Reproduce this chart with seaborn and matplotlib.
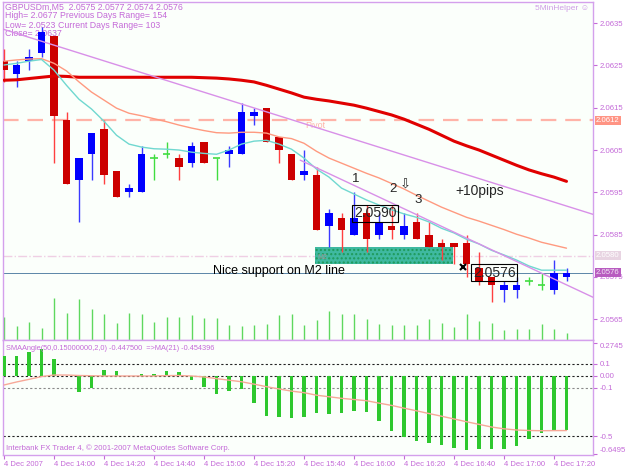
import matplotlib
matplotlib.use("Agg")
import matplotlib.pyplot as plt
from matplotlib.patches import Rectangle
import seaborn as sns
import numpy as np

# GBPUSDm M5 bars, bar 0 = 4 Dec 2007 13:40
opens = [2.0626, 2.0623, 2.0626, 2.0628, 2.0632, 2.0612, 2.0598, 2.0604, 2.0610, 2.0600,
         2.0595, 2.0595, 2.0603, 2.0604, 2.0603, 2.0602, 2.0607, 2.0603, 2.0604, 2.0604,
         2.0613, 2.0615, 2.0608, 2.0604, 2.0599, 2.0599, 2.0587, 2.0589, 2.0585, 2.0590,
         2.0585, 2.0587, 2.0585, 2.0588, 2.0585, 2.0583, 2.0583, 2.0583, 2.0577, 2.0575,
         2.0572, 2.0572, 2.0574, 2.0573, 2.0572, 2.0575]
highs = [2.0629, 2.0626, 2.0629, 2.0634, 2.0632, 2.0614, 2.0603, 2.0609, 2.0612, 2.0600,
         2.0597, 2.0606, 2.0604, 2.0607, 2.0604, 2.0607, 2.0607, 2.0603, 2.0606, 2.0616,
         2.0615, 2.0615, 2.0608, 2.0604, 2.0605, 2.0601, 2.0591, 2.0590, 2.0595, 2.0592,
         2.0590, 2.0592, 2.0590, 2.0590, 2.0588, 2.0584, 2.0583, 2.0585, 2.0581, 2.0575,
         2.0574, 2.0575, 2.0575, 2.0576, 2.0579, 2.0577]
lows = [2.0621, 2.0620, 2.0624, 2.0627, 2.0602, 2.0597, 2.0588, 2.0598, 2.0597, 2.0594,
        2.0594, 2.0595, 2.0598, 2.0603, 2.0598, 2.0601, 2.0602, 2.0598, 2.0601, 2.0604,
        2.0611, 2.0607, 2.0602, 2.0598, 2.0598, 2.0586, 2.0582, 2.0581, 2.0585, 2.0581,
        2.0584, 2.0584, 2.0584, 2.0584, 2.0582, 2.0579, 2.0578, 2.0575, 2.0573, 2.0569,
        2.0569, 2.0570, 2.0573, 2.0572, 2.0571, 2.0574]
closes = [2.0624, 2.0625, 2.0627, 2.0633, 2.0613, 2.0597, 2.0603, 2.0609, 2.0599, 2.0594,
          2.0596, 2.0604, 2.0603, 2.0604, 2.0601, 2.0606, 2.0602, 2.0603, 2.0605, 2.0614,
          2.0614, 2.0607, 2.0605, 2.0598, 2.0600, 2.0586, 2.0590, 2.0586, 2.0589, 2.0584,
          2.0588, 2.0586, 2.0587, 2.0584, 2.0582, 2.0582, 2.0582, 2.0578, 2.0574, 2.0573,
          2.0573, 2.0573, 2.0574, 2.0573, 2.0576, 2.0576]
volumes = [34, 21, 27, 18, 63, 41, 62, 46, 39, 26, 40, 39, 27, 34, 34, 37, 33, 33, 23, 21,
           22, 24, 38, 39, 22, 30, 43, 39, 39, 31, 24, 22, 22, 23, 31, 26, 20, 39, 29, 25,
           15, 16, 17, 24, 17, 11]

ma_fast = [2.06251, 2.06255, 2.06260, 2.06264, 2.06239, 2.06203, 2.06170, 2.06147, 2.06118, 2.06085,
           2.06064, 2.06057, 2.06053, 2.06052, 2.06050, 2.06045, 2.06042, 2.06040, 2.06050, 2.06064,
           2.06071, 2.06073, 2.06064, 2.06052, 2.06031, 2.06005, 2.05986, 2.05960, 2.05946, 2.05932,
           2.05920, 2.05909, 2.05899, 2.05891, 2.05880, 2.05865, 2.05854, 2.05839, 2.05828, 2.05813,
           2.05802, 2.05790, 2.05776, 2.05766, 2.05766, 2.05766]
ma_mid = [2.06260, 2.06263, 2.06265, 2.06266, 2.06255, 2.06237, 2.06211, 2.06187, 2.06168, 2.06149,
          2.06137, 2.06131, 2.06124, 2.06117, 2.06109, 2.06102, 2.06096, 2.06091, 2.06090, 2.06092,
          2.06092, 2.06090, 2.06081, 2.06077, 2.06066, 2.06047, 2.06031, 2.06019, 2.06007, 2.05995,
          2.05984, 2.05971, 2.05958, 2.05943, 2.05929, 2.05915, 2.05903, 2.05891, 2.05882, 2.05872,
          2.05862, 2.05851, 2.05842, 2.05832, 2.05825, 2.05818]
ma_slow = [2.06215, 2.06216, 2.06219, 2.06222, 2.06225, 2.06224, 2.06222, 2.06222, 2.06222, 2.06222,
           2.06222, 2.06222, 2.06222, 2.06222, 2.06222, 2.06222, 2.06221, 2.06220, 2.06218, 2.06215,
           2.06211, 2.06203, 2.06194, 2.06185, 2.06175, 2.06170, 2.06166, 2.06161, 2.06156, 2.06149,
           2.06141, 2.06133, 2.06123, 2.06111, 2.06099, 2.06085, 2.06071, 2.06060, 2.06050, 2.06038,
           2.06026, 2.06014, 2.06003, 2.05994, 2.05986, 2.05976]

sma_angle = [0.17, 0.17, 0.197, 0.225, 0.142, 0.0, -0.131, -0.097, 0.05, 0.044,
             0.0, 0.014, 0.014, 0.044, 0.031, -0.033, -0.094, -0.153, -0.125, -0.108,
             -0.228, -0.331, -0.339, -0.347, -0.345, -0.31, -0.317, -0.31, -0.289, -0.297,
             -0.375, -0.456, -0.506, -0.539, -0.556, -0.578, -0.597, -0.617, -0.606, -0.611,
             -0.611, -0.583, -0.528, -0.478, -0.456, -0.4475]
sma_angle_ma = [-0.075, -0.05, -0.028, -0.005, 0.008, 0.008, 0.004, 0.002, 0.0, 0.0,
                0.0, 0.0, 0.0, 0.003, 0.004, 0.0, -0.008, -0.022, -0.035, -0.048,
                -0.068, -0.089, -0.108, -0.126, -0.139, -0.16, -0.173, -0.186, -0.196, -0.206,
                -0.226, -0.245, -0.268, -0.29, -0.313, -0.335, -0.358, -0.381, -0.403, -0.425,
                -0.44, -0.45, -0.454, -0.456, -0.455, -0.4544]

time_ticks = [0, 4, 8, 12, 16, 20, 24, 28, 32, 36, 40, 44]
time_labels = ["4 Dec 2007", "4 Dec 14:00", "4 Dec 14:20", "4 Dec 14:40", "4 Dec 15:00",
               "4 Dec 15:20", "4 Dec 15:40", "4 Dec 16:00", "4 Dec 16:20", "4 Dec 16:40",
               "4 Dec 17:00", "4 Dec 17:20"]
price_ticks = [2.0565, 2.0575, 2.0585, 2.0595, 2.0605, 2.0615, 2.0625, 2.0635]
angle_ticks = [-0.6495, -0.5, -0.1, 0.0, 0.1, 0.2745]
angle_labels = ["-0.6495", "-0.5", "-0.1", "0.00", "0.1", "0.2745"]

pivot = 2.0612
level_m2 = 2.0580
bid = 2.0576
trend_hi_x, trend_hi_y = [-0.32, 47.12], [2.06338, 2.05898]
trend_lo_x, trend_lo_y = [23.7, 47.12], [2.06026, 2.05702]
zone_x, zone_y = [24.9, 35.9], [2.0578, 2.0582]

VIOLET = "#c46ad8"
FRAME = "#d4a0ec"

sns.set_style("white", {"axes.facecolor": "#fbfffb"})
plt.rcParams["font.family"] = ["Liberation Sans", "DejaVu Sans"]

fig = plt.figure(figsize=(6.25, 4.69), dpi=100)
fig.patch.set_facecolor("white")
ax = fig.add_axes([0.0048, 0.2751, 0.944, 0.7207])
axl = fig.add_axes([0.0048, 0.0299, 0.944, 0.2452])

bars = np.arange(len(opens))
o, h, l, c = map(np.array, (opens, highs, lows, closes))
up, down, doji = c > o, c < o, c == o

# volume at the foot of the price panel
vol_max = 510
ax.vlines(bars, 0, np.array(volumes) / vol_max, transform=ax.get_xaxis_transform(),
          colors="#5ed85e", lw=1, zorder=1)

# horizontal levels / objects
ax.axhline(pivot, color="#ffb3a8", lw=1.6, dashes=(7, 4), zorder=1)
ax.axhline(level_m2, color="#efcfe4", lw=1, ls="-.", zorder=1)
ax.axhline(bid, color="#5a86a8", lw=0.7, zorder=1)
ax.add_patch(Rectangle((zone_x[0], zone_y[0]), zone_x[1] - zone_x[0], zone_y[1] - zone_y[0],
                       facecolor="#3fb9a0", edgecolor="#1e9a5a", hatch="....", lw=0, zorder=2))
ax.text(zone_x[0] + 0.2, 2.05797, "M2", fontsize=5, color="#9a9a9a", va="center", zorder=2)

# header texts, under the candles
def htext(px, py, s, **kw):
    ax.text(px / 625, 1 - py / 469, s, va="center", transform=fig.transFigure, zorder=2.5, **kw)

htext(5, 7, "GBPUSDm,M5  2.0575 2.0577 2.0574 2.0576", fontsize=6.3, color=VIOLET)
htext(5, 16, "High= 2.0677", fontsize=6.3, color=VIOLET)
htext(60, 16, "Previous Days Range= 154", fontsize=6.3, color=VIOLET)
htext(5, 25, "Low= 2.0523", fontsize=6.3, color=VIOLET)
htext(58, 25, "Current Days Range= 103", fontsize=6.3, color=VIOLET)
htext(5, 34, "Close= 2.0637", fontsize=6.3, color=VIOLET)
htext(589, 8, "5MinHelper \u263a", fontsize=6, color="#cf9ee6", ha="right")

# candles
wick_cols = np.where(up, "#3a3aff", np.where(down, "#ff4040", "#40dd40"))
ax.vlines(bars, l, h, colors=wick_cols, lw=1, zorder=3)
ax.bar(bars[up], (c - o)[up], bottom=o[up], width=0.62, color="#0000ff", lw=0, zorder=4)
ax.bar(bars[down], (o - c)[down], bottom=c[down], width=0.62, color="#cc0000", lw=0, zorder=4)
ax.hlines(c[doji], bars[doji] - 0.31, bars[doji] + 0.31, colors="#40dd40", lw=1.2, zorder=4)

# moving averages and trendlines
sns.lineplot(x=bars, y=ma_slow, ax=ax, color="#e00000", lw=2.2, zorder=5)
sns.lineplot(x=bars, y=ma_mid, ax=ax, color="#ff9a80", lw=1, zorder=5)
sns.lineplot(x=bars, y=ma_fast, ax=ax, color="#70d8d0", lw=1, zorder=5)
ax.plot(trend_hi_x, trend_hi_y, color="#d890e8", lw=1, zorder=5)
ax.plot(trend_lo_x, trend_lo_y, color="#d890e8", lw=1, zorder=5)

# annotations
ax.text(24.1, 2.06109, "Pivot", fontsize=6.5, color="#ffb3a8", va="center", zorder=2)
ax.text(16.7, 2.05763, "Nice support on M2 line", fontsize=9, color="black", va="center", zorder=6)
ax.text(27.8, 2.05981, "1", fontsize=9.5, va="center", zorder=6)
ax.text(30.8, 2.05957, "2", fontsize=9.5, va="center", zorder=6)
ax.text(31.7, 2.05967, "\u21e9", fontsize=9.5, va="center", zorder=6, family=["DejaVu Sans"])
ax.text(32.8, 2.05933, "3", fontsize=9.5, va="center", zorder=6)
ax.text(36.1, 2.05954, "+10pips", fontsize=10, va="center", zorder=6)
ax.text(28.0, 2.0590, "2.0590", fontsize=10, va="center", zorder=6,
        bbox=dict(boxstyle="square,pad=0.12", fc="none", ec="black", lw=0.8))
ax.text(37.5, 2.0576, "2.0576", fontsize=10, va="center", zorder=6,
        bbox=dict(boxstyle="square,pad=0.12", fc="none", ec="black", lw=0.8))
ax.plot([36.7], [2.05774], marker="x", color="black", ms=5, mew=1.5, zorder=7)

ax.set_xlim(-0.08, 47.12)
ax.set_ylim(2.05601, 2.06400)
ax.set_xticks([])
ax.yaxis.tick_right()
ax.set_yticks(price_ticks)
ax.set_yticklabels([f"{p:.4f}" for p in price_ticks])
ax.tick_params(axis="y", right=True, length=3, width=0.8, color=VIOLET, labelsize=5.6,
               labelcolor=VIOLET, pad=2)

# price tags on the right scale
for val, fc, tc in [(pivot, "#ff9484", "white"), (level_m2, "#e8d4e2", "white"), (bid, "#b85cc0", "#f4e8f6")]:
    ax.annotate(f"{val:.4f}", xy=(1.0, val), xycoords=ax.get_yaxis_transform(),
                xytext=(2.2, 0), textcoords="offset points", va="center", ha="left",
                fontsize=5.6, color=tc, annotation_clip=False, zorder=8,
                bbox=dict(boxstyle="square,pad=0.12", fc=fc, ec="none"))

# lower indicator panel
axl.bar(bars, sma_angle, width=0.26, color="#2ec82e", lw=0, zorder=3)
sns.lineplot(x=bars, y=sma_angle_ma, ax=axl, color="#f7a898", lw=1, zorder=4)
for lvl, col in [(0.1, "#222222"), (0.0, "#222222"), (-0.1, "#8a8a8a"), (-0.5, "#222222")]:
    axl.axhline(lvl, color=col, lw=0.8, ls=(0, (2, 2)), zorder=2)
axl.set_xlim(-0.08, 47.12)
axl.set_ylim(-0.658, 0.3)
axl.yaxis.tick_right()
axl.set_yticks(angle_ticks)
axl.set_yticklabels(angle_labels)
axl.tick_params(axis="y", right=True, length=3, width=0.8, color=VIOLET, labelsize=5.6,
                labelcolor=VIOLET, pad=2)
ylabs = axl.get_yticklabels()
ylabs[0].set_va("bottom")
ylabs[-1].set_va("top")
axl.set_xticks(time_ticks)
axl.set_xticklabels(time_labels, ha="left")
axl.tick_params(axis="x", bottom=True, length=3, width=0.8, color=VIOLET, labelsize=5.5,
                labelcolor=VIOLET, pad=1.5)

axl.text(6 / 625, 1 - 348 / 469, "SMAAngle(50,0.15000000,2,0) -0.447500  =>MA(21) -0.454396",
         transform=fig.transFigure, fontsize=5.3, color=VIOLET, va="center")
axl.text(6 / 625, 1 - 448 / 469, "Interbank FX Trader 4, \u00a9 2001-2007 MetaQuotes Software Corp.",
         transform=fig.transFigure, fontsize=5.6, color=VIOLET, va="center")

for a in (ax, axl):
    a.set_xlabel("")
    a.set_ylabel("")
    for s in a.spines.values():
        s.set_color(FRAME)
        s.set_linewidth(1)

fig.savefig("out.png", dpi=100, facecolor="white")
